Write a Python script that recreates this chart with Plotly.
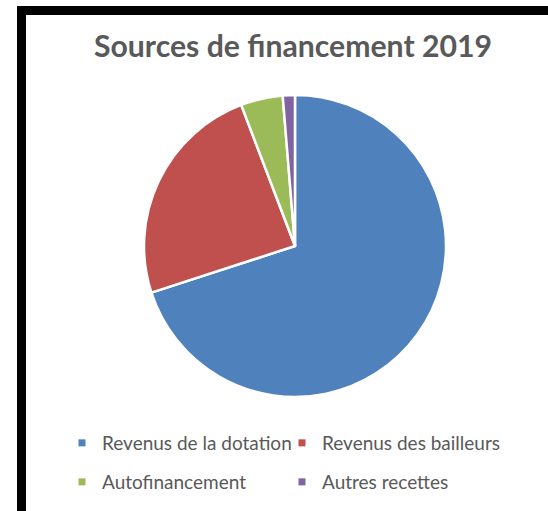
import plotly.graph_objects as go

categories = ["Revenus de la dotation", "Revenus des bailleurs", "Autofinancement", "Autres recettes"]
values = [70.0, 24.2, 4.5, 1.3]
colors = ["#4F81BD", "#C0504D", "#9BBB59", "#8064A2"]
legend_ids = ["legend", "legend2", "legend3", "legend4"]
title_text = "Sources de financement 2019"

W, H = 548, 511
fig = go.Figure()

fig.add_trace(go.Pie(
    labels=categories, values=values, sort=False, direction="clockwise", rotation=0,
    marker=dict(colors=colors, line=dict(color="white", width=2.5)),
    textinfo="none", hoverinfo="label+percent", showlegend=False,
    domain=dict(x=[(295 - 151) / W, (295 + 151) / W], y=[(H - 397) / H, (H - 95) / H]),
))

for cat, col, lg in zip(categories, colors, legend_ids):
    fig.add_trace(go.Scatter(
        x=[None], y=[None], mode="markers", name=cat, legend=lg,
        marker=dict(symbol="square", size=7, color=col), showlegend=True, hoverinfo="skip",
    ))

leg_common = dict(
    orientation="h", xanchor="left", yanchor="middle",
    font=dict(family="Lato", size=19, color="#595959"),
    bgcolor="rgba(0,0,0,0)", itemclick=False, itemdoubleclick=False,
)
# legend item positions (left edge of entry, row centre) in pixels
leg_pos = [(62, 443), (282, 443), (62, 482), (282, 482)]

layout_legends = {}
for lg, (px, py) in zip(legend_ids, leg_pos):
    layout_legends[lg] = dict(x=px / W, y=1 - py / H, **leg_common)

fig.update_layout(
    width=W, height=H,
    margin=dict(l=0, r=0, t=0, b=0),
    paper_bgcolor="white", plot_bgcolor="white",
    xaxis=dict(visible=False), yaxis=dict(visible=False),
    title=dict(text=title_text, x=293 / W, xanchor="center", y=1 - 46 / H, yanchor="middle",
               font=dict(family="Lato", size=30.2, color="#595959", weight="bold")),
    shapes=[
        dict(type="rect", xref="paper", yref="paper", x0=17 / W, x1=1, y0=1 - 15 / H, y1=1 - 6 / H,
             fillcolor="black", line=dict(width=0), layer="above"),
        dict(type="rect", xref="paper", yref="paper", x0=17 / W, x1=26 / W, y0=0, y1=1 - 6 / H,
             fillcolor="black", line=dict(width=0), layer="above"),
    ],
    **layout_legends,
)

fig.write_html("out.html", config={"displayModeBar": False},
               post_script="document.body.style.margin='0px';")
